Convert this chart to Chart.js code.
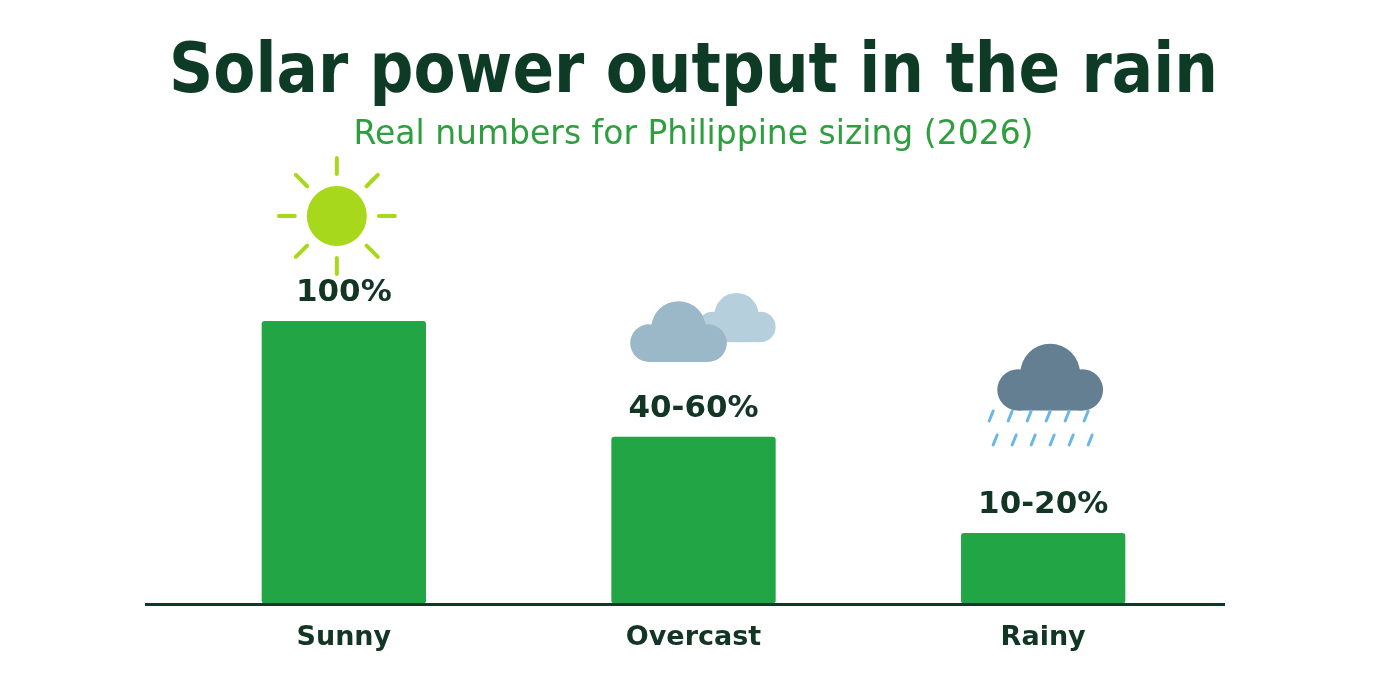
<!DOCTYPE html>
<html><head><meta charset="utf-8">
<script src="https://cdn.jsdelivr.net/npm/chart.js@4"></script>
<style>html,body{margin:0;padding:0;background:#fff}#w{width:1400px;height:700px}</style>
</head><body><div id="w"><canvas id="c"></canvas></div>
<script>
const categories = ["Sunny", "Overcast", "Rainy"];
const values = [100, 59, 25];
const valueLabels = ["100%", "40-60%", "10-20%"];
const titleText = "Solar power output in the rain";
const subtitleText = "Real numbers for Philippine sizing (2026)";

function sun(ctx,x,y){
  ctx.save();ctx.fillStyle="#a8d81c";ctx.strokeStyle="#a8d81c";ctx.lineWidth=4;ctx.lineCap="round";
  ctx.beginPath();ctx.arc(x,y,30,0,Math.PI*2);ctx.fill();
  for(let i=0;i<8;i++){const a=i*Math.PI/4;ctx.beginPath();
    ctx.moveTo(x+Math.cos(a)*42,y+Math.sin(a)*42);ctx.lineTo(x+Math.cos(a)*58,y+Math.sin(a)*58);ctx.stroke();}
  ctx.restore();
}
function cloud(ctx,x,y,s,col){
  ctx.save();ctx.fillStyle=col;ctx.beginPath();
  ctx.arc(x-28*s,y+6*s,18*s,0,Math.PI*2);
  ctx.arc(x,y-8*s,26*s,0,Math.PI*2);
  ctx.arc(x+28*s,y+6*s,18*s,0,Math.PI*2);ctx.fill();
  ctx.fillRect(x-28*s,y+4*s,56*s,20*s);
  ctx.restore();
}
const deco={id:'deco',
  afterDatasetsDraw(chart){
    const ctx=chart.ctx,ca=chart.chartArea,meta=chart.getDatasetMeta(0);
    ctx.save();
    ctx.strokeStyle="#0d3b26";ctx.lineWidth=3;ctx.beginPath();
    ctx.moveTo(145,ca.bottom+1);ctx.lineTo(1225,ca.bottom+1);ctx.stroke();
    ctx.fillStyle="#123524";ctx.font="bold 31px 'DejaVu Sans'";ctx.textAlign="center";ctx.textBaseline="bottom";
    meta.data.forEach((b,i)=>ctx.fillText(valueLabels[i],b.x,b.y-12));
    const b0=meta.data[0],b1=meta.data[1],b2=meta.data[2];
    sun(ctx,b0.x-7,b0.y-105);
    cloud(ctx,b1.x+43,b1.y-115,0.85,"#b5cfdd");
    cloud(ctx,b1.x-15,b1.y-100,1.05,"#9bb8c8");
    cloud(ctx,b2.x+7,b2.y-150,1.15,"#647f92");
    ctx.strokeStyle="#6ab7e6";ctx.lineWidth=3;ctx.lineCap="round";
    for(let r=0;r<2;r++)for(let k=0;k<6;k++){const x=b2.x-50+k*19+r*4,y=b2.y-122+r*24;
      ctx.beginPath();ctx.moveTo(x,y);ctx.lineTo(x-4,y+10);ctx.stroke();}
    ctx.restore();
  }};
new Chart(document.getElementById('c'),{
  type:'bar',
  data:{labels:categories,datasets:[{data:values,backgroundColor:"#22a545",borderRadius:3,borderSkipped:false,barPercentage:0.47,categoryPercentage:1}]},
  plugins:[deco],
  options:{responsive:true,maintainAspectRatio:false,animation:false,
    layout:{padding:{left:169,right:182,top:20,bottom:36}},
    plugins:{legend:{display:false},tooltip:{enabled:false},
      title:{display:true,text:titleText,color:"#0d3b26",font:{family:"'DejaVu Sans'",size:70,weight:'bold'},padding:{top:12,bottom:0}},
      subtitle:{display:true,text:subtitleText,color:"#2e9e3e",font:{family:"'DejaVu Sans'",size:33},padding:{bottom:24}}},
    scales:{
      y:{display:false,min:0,max:150},
      x:{grid:{display:false},border:{display:false},ticks:{color:"#123524",padding:10,font:{family:"'DejaVu Sans'",size:27,weight:'bold'}}}
    }}
});
</script></body></html>
